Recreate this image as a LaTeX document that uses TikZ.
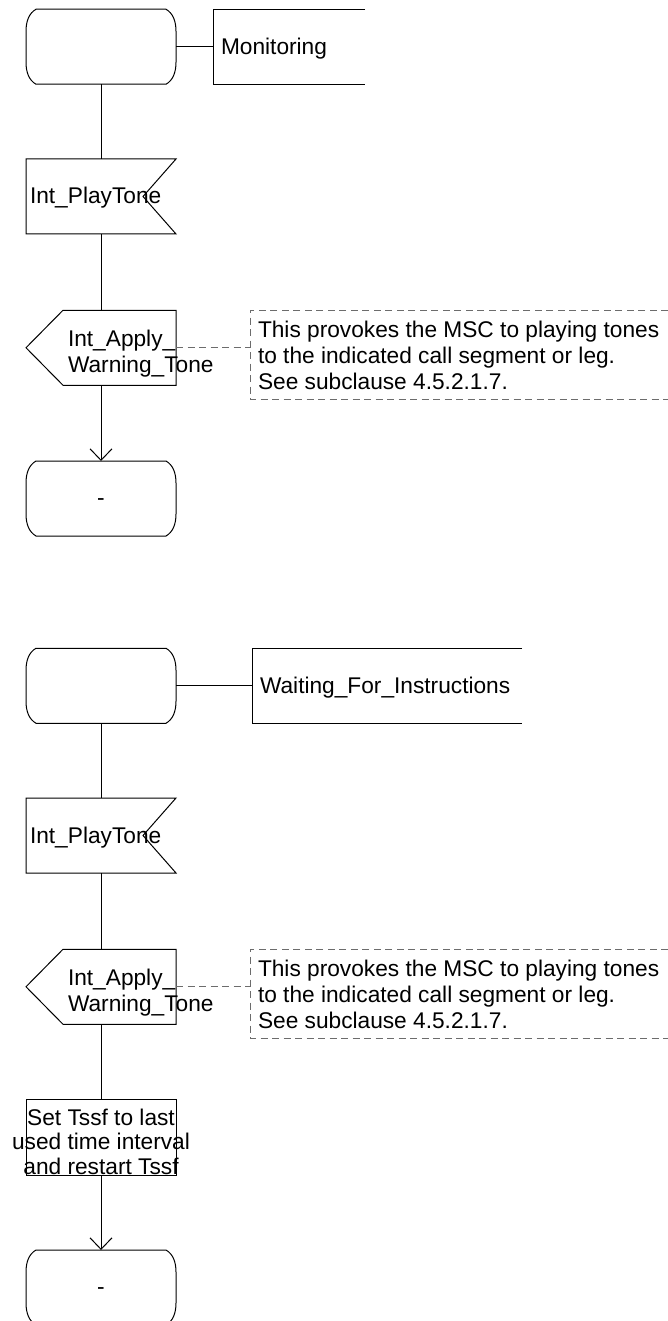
\documentclass[tikz,border=0pt]{standalone}
\usepackage{fontspec}
\setmainfont{Liberation Sans}
\usetikzlibrary{arrows.meta,calc}

\newcommand\statesym[1]{\draw[flow] ($(#1.north west)+(10,0)$) -- ($(#1.north east)+(-10,0)$)
  .. controls ($(#1.north east)+(-3,4)$) and ($(#1.north east)+(0,12)$) .. ($(#1.north east)+(0,22)$)
  -- ($(#1.south east)+(0,-22)$)
  .. controls ($(#1.south east)+(0,-12)$) and ($(#1.south east)+(-3,-4)$) .. ($(#1.south east)+(-10,0)$)
  -- ($(#1.south west)+(10,0)$)
  .. controls ($(#1.south west)+(3,-4)$) and ($(#1.south west)+(0,-12)$) .. ($(#1.south west)+(0,-22)$)
  -- ($(#1.north west)+(0,22)$)
  .. controls ($(#1.north west)+(0,12)$) and ($(#1.north west)+(3,4)$) .. ($(#1.north west)+(10,0)$) -- cycle;}
\newcommand\inputsym[1]{\draw[flow] (#1.north west) -- (#1.north east) -- ($(#1.east)+(-33,0)$) -- (#1.south east) -- (#1.south west) -- cycle;}
\newcommand\outputsym[1]{\draw[flow] ($(#1.north west)+(37,0)$) -- (#1.north east) -- (#1.south east) -- ($(#1.south west)+(37,0)$) -- (#1.west) -- cycle;}
\newcommand\openbox[1]{\draw[flow] (#1.north east) -- (#1.north west) -- (#1.south west) -- (#1.south east);}
\newcommand\cmtbox[1]{\draw[cmt] (#1.north east) -- (#1.north west) -- (#1.south west) -- (#1.south east);}

\tikzset{
  symb/.style={rectangle, draw=none, inner sep=0pt, outer sep=0pt, minimum width=150pt, minimum height=75pt},
  flow/.style={line width=1pt, draw=black},
  arr/.style={flow, -{Straight Barb[length=11.5pt,width=22pt]}},
  cmt/.style={line width=1pt, draw=gray!85!black, dash pattern=on 7pt off 4.5pt},
  txt/.style={inner sep=0pt, outer sep=0pt, font=\fontsize{22.7}{26}\selectfont},
}

\begin{document}
\begin{tikzpicture}[x=1pt,y=-1pt]
\useasboundingbox (0,0) rectangle (668,1321);
\clip (0,0) rectangle (668,1321);

% ---------- upper chart ----------
\node[symb] (s1) at (101,46.75) {};
\node[symb, minimum width=152pt] (m1) at (289,46.75) {};
\node[symb] (i1) at (101,196.5) {};
\node[symb] (o1) at (101,347.75) {};
\node[symb, minimum width=418pt, minimum height=89pt] (c1) at (459,354.5) {};
\node[symb] (s2) at (101,498.5) {};

\statesym{s1}
\openbox{m1}
\inputsym{i1}
\outputsym{o1}
\cmtbox{c1}
\statesym{s2}

\node[txt, anchor=base west] (m1t) at ($(m1.west)+(8,8.25)$) {Monitoring};
\node[txt, anchor=base west] (i1t) at ($(i1.west)+(4,7.5)$) {Int\_PlayTone};
\node[txt, anchor=base west] (o1t) at ($(o1.west)+(42,-1.25)$)
  {\begin{tabular}[t]{@{}l@{}}Int\_Apply\_\\Warning\_Tone\end{tabular}};
\node[txt, anchor=base west] (c1t) at ($(c1.north west)+(8,27.5)$)
  {\begin{tabular}[t]{@{}l@{}}This provokes the MSC to playing tones\\to the indicated call segment or leg.\\See subclause 4.5.2.1.7.\end{tabular}};
\node[txt, anchor=base] (s2t) at ($(s2.center)+(0,6.5)$) {-};

\draw[flow] (s1.east) -- (m1.west);
\draw[flow] (s1.south) -- (i1.north);
\draw[flow] (i1.south) -- (o1.north);
\draw[cmt] (o1.east) -- (o1.east -| c1.west);
\draw[arr] (o1.south) -- (s2.north);

% ---------- lower chart ----------
\node[symb] (s3) at (101,685.75) {};
\node[symb, minimum width=270pt] (w3) at (387,685.75) {};
\node[symb] (i3) at (101,835.5) {};
\node[symb] (o3) at (101,986.75) {};
\node[symb, minimum width=418pt, minimum height=89pt] (c3) at (459,993.5) {};
\node[symb, draw=black, line width=1pt, minimum height=76pt] (t3) at (101,1137) {};
\node[symb] (s4) at (101,1287.5) {};

\statesym{s3}
\openbox{w3}
\inputsym{i3}
\outputsym{o3}
\cmtbox{c3}
\statesym{s4}

\node[txt, anchor=base west] (w3t) at ($(w3.west)+(8,8)$) {Waiting\_For\_Instructions};
\node[txt, anchor=base west] (i3t) at ($(i3.west)+(4,7.5)$) {Int\_PlayTone};
\node[txt, anchor=base west] (o3t) at ($(o3.west)+(42,-1.25)$)
  {\begin{tabular}[t]{@{}l@{}}Int\_Apply\_\\Warning\_Tone\end{tabular}};
\node[txt, anchor=base west] (c3t) at ($(c3.north west)+(8,27.5)$)
  {\begin{tabular}[t]{@{}l@{}}This provokes the MSC to playing tones\\to the indicated call segment or leg.\\See subclause 4.5.2.1.7.\end{tabular}};
\node[txt, anchor=base, font=\fontsize{22.7}{24.5}\selectfont] (t3t) at ($(t3.north)+(0,26)$)
  {\begin{tabular}[t]{@{}c@{}}Set Tssf to last\\used time interval\\and restart Tssf\end{tabular}};
\node[txt, anchor=base] (s4t) at ($(s4.center)+(0,6.5)$) {-};

\draw[flow] (s3.east) -- (w3.west);
\draw[flow] (s3.south) -- (i3.north);
\draw[flow] (i3.south) -- (o3.north);
\draw[cmt] (o3.east) -- (o3.east -| c3.west);
\draw[flow] (o3.south) -- (t3.north);
\draw[arr] (t3.south) -- (s4.north);
\end{tikzpicture}
\end{document}
